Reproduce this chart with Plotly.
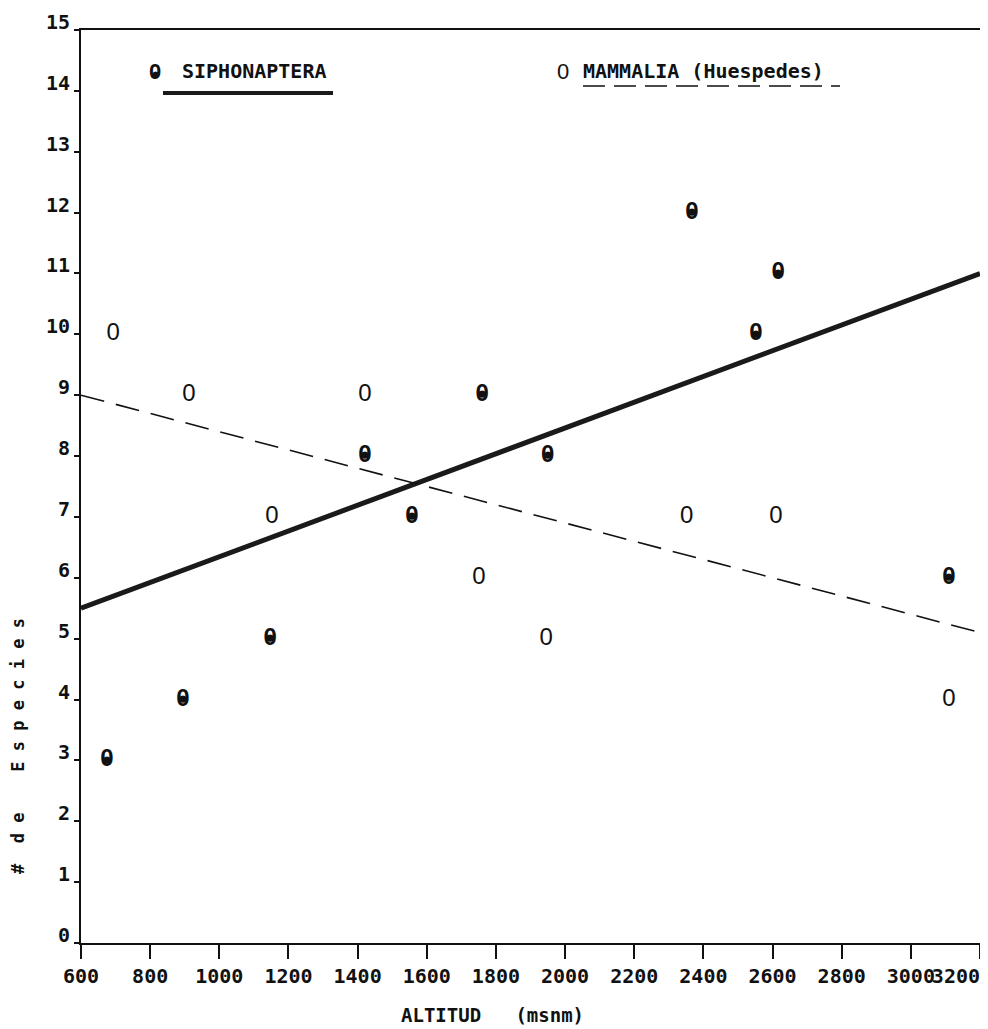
import plotly.graph_objects as go

# ---- data ----
sipho_alt = [675, 895, 1147, 1421, 1557, 1760, 1950, 2367, 2552, 2616, 3110]
sipho_sp = [3, 4, 5, 8, 7, 9, 8, 12, 10, 11, 6]

mamm_alt = [693, 912, 1152, 1421, 1751, 1945, 2352, 2610, 3110]
mamm_sp = [10, 9, 7, 9, 6, 5, 7, 7, 4]

trend_alt = [600, 3200]
sipho_trend = [5.5, 11.0]
mamm_trend = [9.0, 5.1]

x_ticks = [600, 800, 1000, 1200, 1400, 1600, 1800, 2000, 2200, 2400, 2600, 2800, 3000, 3200]
y_ticks = list(range(0, 16))

FONT = "DejaVu Sans Mono"
GLYPH = "Liberation Sans"
INK = "#111111"

PAGE_OFF = 8
FIG_W, FIG_H = 988 - PAGE_OFF, 1029 - PAGE_OFF
PLOT_L, PLOT_R, PLOT_T, PLOT_B = 81, 980, 30, 943  # window pixels of the plot box

fig = go.Figure()

fig.add_trace(go.Scatter(
    x=trend_alt, y=sipho_trend, mode="lines",
    line=dict(color="#1a1a1a", width=5), showlegend=False, hoverinfo="skip"))
fig.add_trace(go.Scatter(
    x=trend_alt, y=mamm_trend, mode="lines",
    line=dict(color=INK, width=1.6, dash="24px,12px"), showlegend=False, hoverinfo="skip"))

# Siphonaptera: solid oval = bold "0" glyph with a filled centre
fig.add_trace(go.Scatter(
    x=sipho_alt, y=sipho_sp, mode="text", text=["0"] * len(sipho_alt),
    textposition="middle center",
    textfont=dict(family=GLYPH, size=24, color=INK, weight="bold"),
    name="SIPHONAPTERA", showlegend=False))
fig.add_trace(go.Scatter(
    x=sipho_alt, y=sipho_sp, mode="text", text=["●"] * len(sipho_alt),
    textposition="middle center",
    textfont=dict(family=GLYPH, size=17, color=INK),
    name="SIPHONAPTERA", showlegend=False, hoverinfo="skip"))
# Mammalia: open oval
fig.add_trace(go.Scatter(
    x=mamm_alt, y=mamm_sp, mode="text", text=["0"] * len(mamm_alt),
    textposition="middle center",
    textfont=dict(family=GLYPH, size=24, color=INK),
    name="MAMMALIA (Huespedes)", showlegend=False))

# ---- legend drawn as text, as in the original ----
def px_x(p):
    return (p - PLOT_L) / (PLOT_R - PLOT_L)

def px_y(p):
    return (PLOT_B - p) / (PLOT_B - PLOT_T)

ann = [
    dict(x=px_x(155), y=px_y(72), text="<b>0</b>", font=dict(family=GLYPH, size=22, color=INK),
         xanchor="center", yanchor="middle"),
    dict(x=px_x(155), y=px_y(73), text="●", font=dict(family=GLYPH, size=15, color=INK),
         xanchor="center", yanchor="middle"),
    dict(x=px_x(180), y=px_y(71), text="<b>SIPHONAPTERA</b>", font=dict(family=FONT, size=20, color=INK),
         xanchor="left", yanchor="middle"),
    dict(x=px_x(563), y=px_y(72), text="0", font=dict(family=GLYPH, size=22, color=INK),
         xanchor="center", yanchor="middle"),
    dict(x=px_x(581), y=px_y(71), text="<b>MAMMALIA (Huespedes)</b>", font=dict(family=FONT, size=20, color=INK),
         xanchor="left", yanchor="middle"),
    dict(x=px_x(492), y=px_y(1015), text="<b>ALTITUD\u00a0\u00a0\u00a0(msnm)</b>", font=dict(family=FONT, size=19, color=INK),
         xanchor="center", yanchor="middle"),
    dict(x=px_x(18), y=px_y(746), textangle=-90,
         text="<b>#\u00a0\u00a0d\u00a0e\u00a0\u00a0\u00a0\u00a0E\u00a0s\u00a0p\u00a0e\u00a0c\u00a0i\u00a0e\u00a0s</b>",
         font=dict(family=FONT, size=17, color=INK), xanchor="center", yanchor="middle"),
]
for a in ann:
    a.update(xref="paper", yref="paper", showarrow=False)

shapes = [
    dict(type="line", xref="paper", yref="paper", x0=px_x(163), x1=px_x(333), y0=px_y(93), y1=px_y(93),
         line=dict(color="#1a1a1a", width=4)),
    dict(type="line", xref="paper", yref="paper", x0=px_x(583), x1=px_x(840), y0=px_y(86), y1=px_y(86),
         line=dict(color=INK, width=1.6, dash="22px,9px")),
]

x_text = [str(v) for v in x_ticks]
x_text[-1] = "3200\u00a0\u00a0\u00a0\u00a0"

fig.update_layout(
    width=FIG_W, height=FIG_H,
    margin=dict(l=PLOT_L - PAGE_OFF, r=FIG_W - (PLOT_R - PAGE_OFF), t=PLOT_T - PAGE_OFF,
                b=FIG_H - (PLOT_B - PAGE_OFF), autoexpand=False),
    paper_bgcolor="white", plot_bgcolor="white",
    annotations=ann, shapes=shapes, showlegend=False,
    font=dict(family=FONT, color=INK),
)
fig.update_xaxes(
    range=[600, 3200], tickvals=x_ticks, ticktext=x_text, tickangle=0, automargin=False,
    ticklabeloverflow="allow",
    showgrid=False, zeroline=False, showline=True, linecolor=INK, linewidth=2, mirror=True,
    ticks="outside", ticklen=14, tickwidth=1.5, tickcolor=INK,
    tickfont=dict(family=FONT, size=20, color=INK, weight="bold"),
)
fig.update_yaxes(
    range=[0, 15], tickvals=y_ticks, ticktext=[str(v) for v in y_ticks], automargin=False,
    showgrid=False, zeroline=False, showline=True, linecolor=INK, linewidth=2, mirror=True,
    ticks="outside", ticklen=5, tickwidth=1.5, tickcolor=INK,
    tickfont=dict(family=FONT, size=20, color=INK, weight="bold"),
    ticklabelstandoff=0, ticklabelshift=-8,
)

fig.write_html("out.html")
